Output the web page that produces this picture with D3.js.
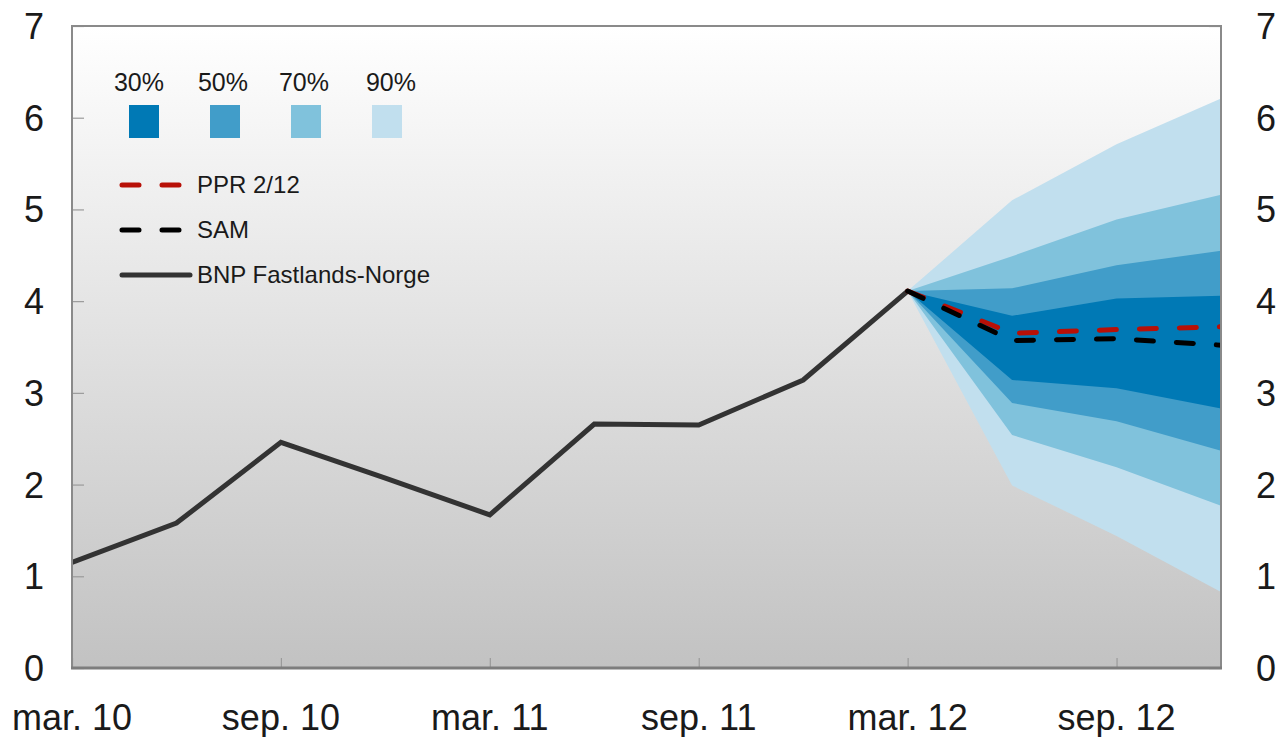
<!DOCTYPE html>
<html><head><meta charset="utf-8">
<script src="https://cdn.jsdelivr.net/npm/d3@7"></script>
<style>body{margin:0;background:#fff}svg{display:block}text{font-family:"Liberation Sans",Arial,sans-serif;fill:#1a1a1a}</style>
</head><body><svg id="c" width="1283" height="737"></svg>
<script>
const quarters = ["mar. 10","jun. 10","sep. 10","des. 10","mar. 11","jun. 11","sep. 11","des. 11","mar. 12","jun. 12","sep. 12","des. 12"];
const xTickLabels = ["mar. 10","sep. 10","mar. 11","sep. 11","mar. 12","sep. 12"];
const yTicks = [0,1,2,3,4,5,6,7];
const bnp = [1.15,1.58,2.46,2.07,1.67,2.66,2.65,3.14,4.11];
const fanQuarters = ["mar. 12","jun. 12","sep. 12","des. 12"];
const upper90 = [4.11,5.10,5.71,6.21];
const upper70 = [4.11,4.49,4.89,5.16];
const upper50 = [4.11,4.14,4.39,4.55];
const upper30 = [4.11,3.84,4.03,4.06];
const lower30 = [4.11,3.14,3.05,2.83];
const lower50 = [4.11,2.89,2.69,2.37];
const lower70 = [4.11,2.54,2.19,1.77];
const lower90 = [4.11,1.99,1.44,0.83];
const ppr = [4.11,3.65,3.69,3.72];
const sam = [4.11,3.57,3.59,3.52];
const bandNames = ["30%","50%","70%","90%"];
const bandColors = ["#0079b5","#419dc9","#80c2dc","#c1dfee"];

const svg = d3.select("#c");
const L=72, R=1221, T=26, B=668;
const x = d3.scalePoint().domain(quarters).range([L,R]);
const y = d3.scaleLinear().domain([0,7]).range([B,T]);

const defs = svg.append("defs");
const g = defs.append("linearGradient").attr("id","bg").attr("x1",0).attr("y1",0).attr("x2",0).attr("y2",1);
g.append("stop").attr("offset","0%").attr("stop-color","#ffffff");
g.append("stop").attr("offset","100%").attr("stop-color","#c2c2c2");
defs.append("clipPath").attr("id","clip").append("rect").attr("x",L).attr("y",T).attr("width",R-L).attr("height",B-T);

svg.append("rect").attr("x",L).attr("y",T).attr("width",R-L).attr("height",B-T).attr("fill","url(#bg)");

// axis ticks
const yl = d3.axisLeft(y).tickValues(yTicks).tickSize(-12).tickFormat("");
const gl = svg.append("g").attr("transform",`translate(${L},0)`).call(yl);
const yr = d3.axisRight(y).tickValues(yTicks).tickSize(-12).tickFormat("");
const gr = svg.append("g").attr("transform",`translate(${R},0)`).call(yr);
const xb = d3.axisBottom(x).tickValues(xTickLabels).tickSize(-10).tickFormat("");
const gb = svg.append("g").attr("transform",`translate(0,${B})`).call(xb);
[gl,gr,gb].forEach(a=>{a.select(".domain").remove();a.selectAll("line").attr("stroke","#9a9a9a").attr("stroke-width",1.2);});

// fan
const plot = svg.append("g").attr("clip-path","url(#clip)");
const bands = [[upper90,lower90],[upper70,lower70],[upper50,lower50],[upper30,lower30]];
const bandFill = [bandColors[3],bandColors[2],bandColors[1],bandColors[0]];
bands.forEach((b,i)=>{
  const area = d3.area().x((d,j)=>x(fanQuarters[j])).y0((d,j)=>y(b[1][j])).y1((d,j)=>y(b[0][j]));
  plot.append("path").datum(b[0]).attr("d",area).attr("fill",bandFill[i]);
});

// lines
const lineQ = (qs)=>d3.line().x((d,j)=>x(qs[j])).y(d=>y(d));
plot.append("path").datum(bnp).attr("d",lineQ(quarters)).attr("fill","none").attr("stroke","#333").attr("stroke-width",5).attr("stroke-linejoin","miter");
plot.append("path").datum(ppr).attr("d",lineQ(fanQuarters)).attr("fill","none").attr("stroke","#b81007").attr("stroke-width",5).attr("stroke-dasharray","17,23").attr("stroke-linecap","round");
plot.append("path").datum(sam).attr("d",lineQ(fanQuarters)).attr("fill","none").attr("stroke","#000").attr("stroke-width",5).attr("stroke-dasharray","17,23").attr("stroke-linecap","round");
// frame
svg.append("path").attr("d",`M${L},${B}V${T}H${R}V${B}`).attr("fill","none").attr("stroke","#8a8a8a").attr("stroke-width",2);
svg.append("line").attr("x1",L-1).attr("x2",R+1).attr("y1",B).attr("y2",B).attr("stroke","#7d7d7d").attr("stroke-width",3);

// axis labels
svg.append("g").selectAll("text").data(yTicks).join("text")
  .attr("x",44).attr("y",d=>y(d)).attr("dy","0.36em").attr("text-anchor","end").attr("font-size",36).text(d=>d);
svg.append("g").selectAll("text").data(yTicks).join("text")
  .attr("x",1256).attr("y",d=>y(d)).attr("dy","0.36em").attr("text-anchor","start").attr("font-size",36).text(d=>d);
svg.append("g").selectAll("text").data(xTickLabels).join("text")
  .attr("x",d=>x(d)).attr("y",730).attr("text-anchor","middle").attr("font-size",36).text(d=>d);

// legend
const lg = svg.append("g");
const sqX = [129,210,291,372];
const lblX = [139,223,304,391];
bandNames.forEach((n,i)=>{
  lg.append("rect").attr("x",sqX[i]).attr("y",105).attr("width",30).attr("height",33).attr("fill",bandColors[i]);
  lg.append("text").attr("x",lblX[i]).attr("y",91).attr("text-anchor","middle").attr("font-size",25).text(n);
});
const lineLeg = [
  {name:"PPR 2/12", color:"#b81007", dash:"17,23", y:185},
  {name:"SAM", color:"#000", dash:"17,23", y:230},
  {name:"BNP Fastlands-Norge", color:"#333", dash:null, y:275}
];
lineLeg.forEach(l=>{
  const ln = lg.append("line").attr("x1",122).attr("x2",l.dash?182:190).attr("y1",l.y).attr("y2",l.y)
    .attr("stroke",l.color).attr("stroke-width",5).attr("stroke-linecap","round");
  if(l.dash) ln.attr("stroke-dasharray",l.dash);
  lg.append("text").attr("x",197).attr("y",l.y+8).attr("font-size",24).text(l.name);
});
</script></body></html>
